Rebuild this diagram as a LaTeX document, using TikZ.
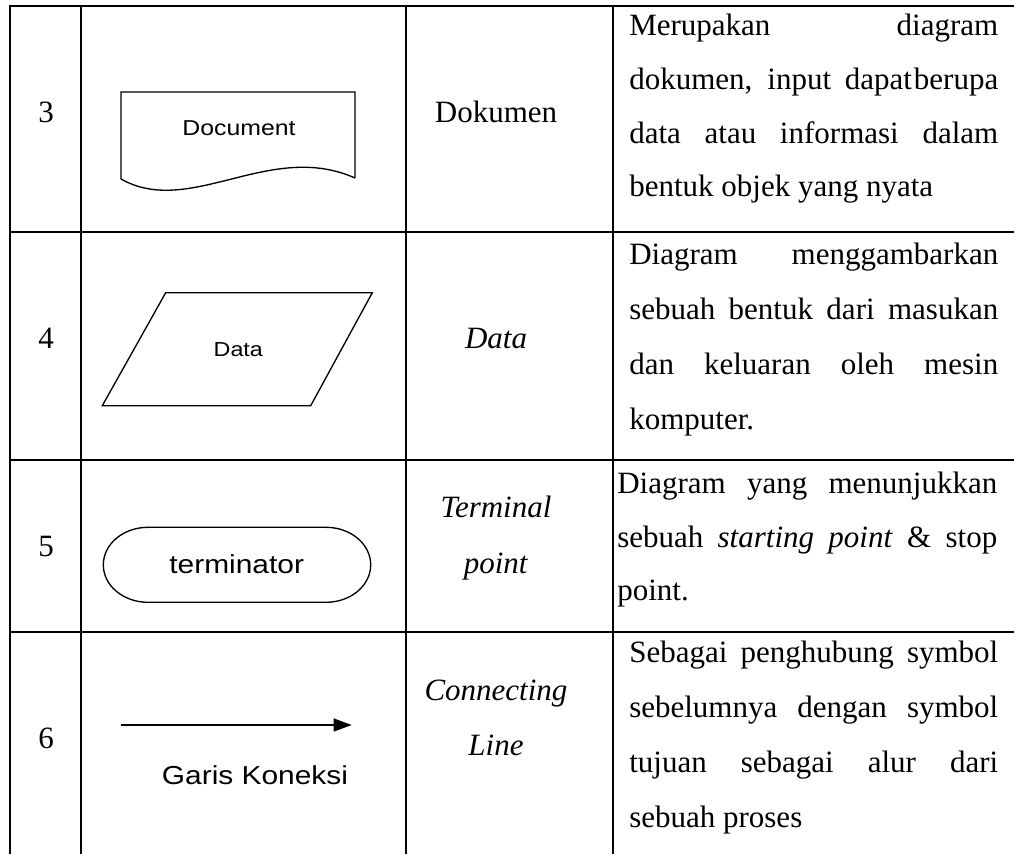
\documentclass[tikz,border=0pt]{standalone}
\usepackage{fontspec}
\usepackage{graphicx}
\setmainfont{Liberation Serif}
\newfontfamily\arialf{Liberation Sans}
\usetikzlibrary{arrows.meta}
\newcommand{\dw}{276.75pt}
\newcommand{\dwb}{285pt}
\begin{document}
\begin{tikzpicture}[x=0.75pt,y=-0.75pt,
  gridline/.style={line width=2.1pt, black},
  shapeline/.style={line width=1pt, black},
  serif/.style={font=\fontsize{23.25}{28}\selectfont, inner sep=0pt, anchor=base},
  dline/.style={font=\fontsize{23.25}{28}\selectfont, inner sep=0pt, anchor=base west},
  stext/.style={font=\arialf, inner sep=0pt, anchor=center}]
\useasboundingbox (0,0) rectangle (1014,854);

% table grid
\draw[gridline] (10,6) -- (1014,6);
\draw[gridline] (10,232) -- (1014,232);
\draw[gridline] (10,460) -- (1014,460);
\draw[gridline] (10,632) -- (1014,632);
\foreach \x in {10,81,406,613} \draw[gridline] (\x,5) -- (\x,854);

% column 1 numbers
\node[serif] (n3) at (46,122) {3};
\node[serif] (n4) at (46,348) {4};
\node[serif] (n5) at (46,556) {5};
\node[serif] (n6) at (46,748) {6};

% column 2 shapes
% document
\draw[shapeline] (355,178) -- (355,92) -- (121,92) -- (121,179)
  .. controls (190,218) and (270,140) .. (355,178);
\node[stext] (doct) at (239,128) {\scalebox{1.15}[1]{\fontsize{16.2}{18}\selectfont Document}};
% data
\draw[shapeline] (165.7,292.7) -- (372.3,292.7) -- (310.7,405.7) -- (102.3,405.7) -- cycle;
\node[stext] (datat) at (238.3,349.3) {\scalebox{1.15}[1]{\fontsize{15.2}{18}\selectfont Data}};
% terminator
\draw[shapeline] (148,527.3) -- (326,527.3) arc[start angle=-90, end angle=90, x radius=44.7, y radius=37.5]
  -- (148,602.3) arc[start angle=90, end angle=270, x radius=44.7, y radius=37.5] -- cycle;
\node[stext] (termt) at (236.7,564) {\scalebox{1.15}[1]{\fontsize{19.5}{22}\selectfont terminator}};
% connecting line
\coordinate (a1) at (120.7,725);
\coordinate (a2) at (351.7,725);
\draw[shapeline, -{Triangle[length=13.5pt, width=9.75pt]}] (a1) -- (a2);
\node[stext] (garis) at (255,775) {\scalebox{1.15}[1]{\fontsize{19.5}{22}\selectfont Garis Koneksi}};

% column 3 labels
\node[serif] (l3) at (496,122) {Dokumen};
\node[serif] (l4) at (496,348) {\textit{Data}};
\node[serif] (l5a) at (496,517) {\textit{Terminal}};
\node[serif] (l5b) at (496,573) {\textit{point}};
\node[serif] (l6a) at (496,700) {\textit{Connecting}};
\node[serif] (l6b) at (496,755) {\textit{Line}};

% column 4 descriptions
\node[dline] (d3a) at (629,35) {\makebox[\dw][s]{Merupakan diagram}};
\node[dline] (d3b) at (629,89) {\makebox[\dw][s]{dokumen, input dapat\hspace{1.5pt}berupa}};
\node[dline] (d3c) at (629,143) {\makebox[\dw][s]{data atau informasi dalam}};
\node[dline] (d3d) at (629,196) {bentuk objek yang nyata};

\node[dline] (d4a) at (629,264) {\makebox[\dw][s]{Diagram menggambarkan}};
\node[dline] (d4b) at (629,319) {\makebox[\dw][s]{sebuah bentuk dari masukan}};
\node[dline] (d4c) at (629,374) {\makebox[\dw][s]{dan keluaran oleh mesin}};
\node[dline] (d4d) at (629,429) {komputer.};

\node[dline] (d5a) at (617,493) {\makebox[\dwb][s]{Diagram yang menunjukkan}};
\node[dline] (d5b) at (617,547) {\makebox[\dwb][s]{sebuah \textit{starting point} \& stop}};
\node[dline] (d5c) at (617,600) {point.};

\node[dline] (d6a) at (629,662) {\makebox[\dw][s]{Sebagai penghubung symbol}};
\node[dline] (d6b) at (629,717) {\makebox[\dw][s]{sebelumnya dengan symbol}};
\node[dline] (d6c) at (629,772) {\makebox[\dw][s]{tujuan sebagai alur dari}};
\node[dline] (d6d) at (629,827) {sebuah proses};
\end{tikzpicture}
\end{document}
